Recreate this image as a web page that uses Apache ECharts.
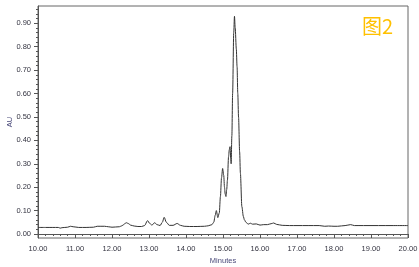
<!DOCTYPE html>
<html>
<head>
<meta charset="utf-8">
<script src="https://cdn.jsdelivr.net/npm/echarts@6/dist/echarts.min.js"></script>
<style>html,body{margin:0;padding:0;background:#fff}#c{width:419px;height:267px}</style>
</head>
<body>
<div id="c"></div>
<script>
const minutes = [10.0,10.2,10.4,10.55,10.6,10.65,10.8,10.88,10.95,11.1,11.3,11.5,11.6,11.8,11.9,12.0,12.1,12.2,12.25,12.3,12.35,12.39,12.45,12.5,12.6,12.7,12.8,12.88,12.96,13.02,13.08,13.15,13.22,13.3,13.36,13.41,13.47,13.55,13.65,13.76,13.85,13.95,14.1,14.3,14.5,14.6,14.7,14.75,14.79,14.82,14.86,14.9,14.93,14.96,14.99,15.02,15.04,15.06,15.08,15.10,15.12,15.15,15.17,15.19,15.21,15.22,15.24,15.26,15.29,15.31,15.33,15.36,15.38,15.40,15.42,15.45,15.47,15.51,15.55,15.58,15.62,15.68,15.74,15.8,15.9,16.0,16.1,16.2,16.3,16.37,16.45,16.6,16.8,17.0,17.3,17.6,17.75,17.85,18.0,18.1,18.3,18.45,18.55,18.8,19.2,19.6,20.0];
const au = [0.028,0.028,0.028,0.028,0.025,0.027,0.029,0.033,0.031,0.028,0.028,0.029,0.033,0.033,0.031,0.029,0.030,0.031,0.034,0.038,0.045,0.048,0.044,0.038,0.034,0.032,0.032,0.036,0.057,0.045,0.038,0.048,0.040,0.036,0.050,0.071,0.050,0.037,0.037,0.045,0.037,0.033,0.032,0.032,0.033,0.035,0.040,0.050,0.080,0.100,0.070,0.090,0.160,0.240,0.280,0.250,0.200,0.170,0.160,0.190,0.230,0.330,0.360,0.373,0.320,0.300,0.420,0.600,0.860,0.930,0.880,0.790,0.715,0.600,0.500,0.350,0.260,0.117,0.075,0.060,0.050,0.042,0.046,0.042,0.043,0.038,0.040,0.040,0.044,0.047,0.041,0.037,0.036,0.036,0.036,0.036,0.033,0.034,0.033,0.033,0.036,0.040,0.036,0.036,0.036,0.036,0.036];
const yTicks = [0,0.1,0.2,0.3,0.4,0.5,0.6,0.7,0.8,0.9];
const yMinorTicks = [0,0.02,0.04,0.06,0.08,0.1,0.12,0.14,0.16,0.18,0.2,0.22,0.24,0.26,0.28,0.3,0.32,0.34,0.36,0.38,0.4,0.42,0.44,0.46,0.48,0.5,0.52,0.54,0.56,0.58,0.6,0.62,0.64,0.66,0.68,0.7,0.72,0.74,0.76,0.78,0.8,0.82,0.84,0.86,0.88,0.9,0.92,0.94,0.96];
const xLabel = 'Minutes';
const yLabel = 'AU';
const figTitle = '图2';

const font = "'Liberation Sans Narrow', 'Liberation Sans', Arial, sans-serif";
const chart = echarts.init(document.getElementById('c'), null, {renderer:'canvas'});
chart.setOption({
  animation:false,
  grid:{left:38,right:11,top:6,bottom:29,containLabel:false,outerBoundsMode:'none',show:true,borderColor:'#666',borderWidth:1,backgroundColor:'#fff'},
  graphic:[{type:'text',left:362,top:16,style:{text:figTitle,fontSize:20,fill:'#FFC000',fontFamily:"'Noto Sans CJK SC', sans-serif"}}],
  xAxis:{type:'value',min:10,max:20,interval:1,
    name:xLabel,nameLocation:'middle',nameGap:19,nameMoveOverlap:false,
    nameTextStyle:{fontSize:7.5,color:'#4a4a7a',fontFamily:font},
    axisLine:{show:true,lineStyle:{color:'#555',width:1}},
    axisTick:{show:true,length:4,lineStyle:{color:'#555'}},
    minorTick:{show:true,splitNumber:5,length:2,lineStyle:{color:'#555'}},
    splitLine:{show:false},
    axisLabel:{fontSize:7.5,color:'#333340',margin:7,fontFamily:font,formatter:v=>v.toFixed(2)}},
  yAxis:[{type:'value',min:-0.0171,max:0.974,
    name:yLabel,nameLocation:'middle',nameGap:24,nameMoveOverlap:false,
    nameTextStyle:{fontSize:7.5,color:'#4a4a7a',fontFamily:font},
    axisLine:{show:true,lineStyle:{color:'#555',width:1}},
    axisTick:{show:true,length:4,customValues:yTicks,lineStyle:{color:'#555'}},
    splitLine:{show:false},
    axisLabel:{fontSize:7.5,color:'#333340',margin:7,fontFamily:font,customValues:yTicks,formatter:v=>v.toFixed(2)}},
   {type:'value',min:-0.0171,max:0.974,position:'left',
    axisLine:{show:false},
    axisTick:{show:true,length:2,customValues:yMinorTicks,lineStyle:{color:'#555'}},
    splitLine:{show:false},
    axisLabel:{show:false}}],
  series:[{type:'line',yAxisIndex:0,data:minutes.map((t,i)=>[t,au[i]]),
    showSymbol:false,smooth:0.3,smoothMonotone:'x',
    lineStyle:{color:'#333',width:1}}]
});
</script>
</body>
</html>
